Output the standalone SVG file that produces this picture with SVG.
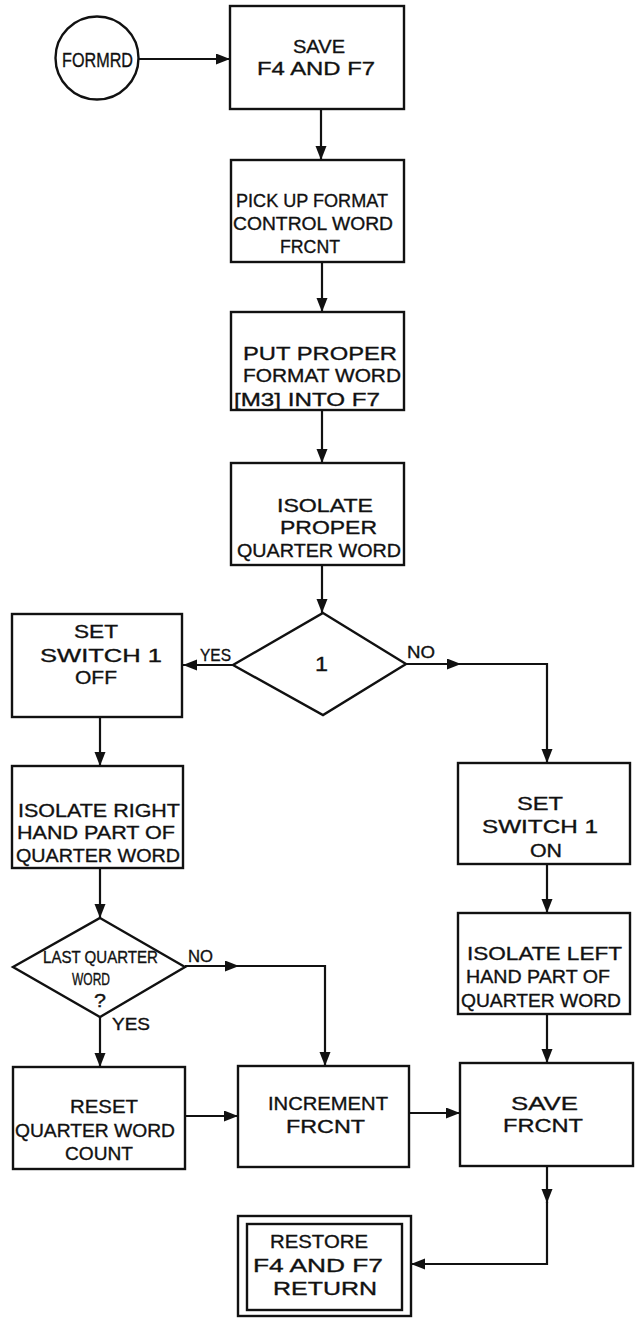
<svg xmlns="http://www.w3.org/2000/svg" width="637" height="1318" viewBox="0 0 637 1318">
<style>
.box{fill:#fff;stroke:#111;stroke-width:2.4}
.ln{fill:none;stroke:#111;stroke-width:2.2}
text{font-family:"Liberation Sans",Arial,sans-serif;font-size:19px;fill:#111;stroke:#111;stroke-width:0.35}
.lbl{font-size:17px}
.sm{font-size:17px}
</style>
<defs>
<marker id="ah" markerUnits="userSpaceOnUse" markerWidth="15" markerHeight="12" refX="14" refY="5.5" orient="auto">
<path d="M0,0 L14,5.5 L0,11 z" fill="#111"/>
</marker>
</defs>
<rect width="637" height="1318" fill="#fff"/>

<g id="connectors">
<line class="ln" x1="139" y1="59" x2="230" y2="59" marker-end="url(#ah)"/>
<line class="ln" x1="321" y1="110" x2="321" y2="160" marker-end="url(#ah)"/>
<line class="ln" x1="322" y1="262" x2="322" y2="312" marker-end="url(#ah)"/>
<line class="ln" x1="322" y1="410" x2="322" y2="463" marker-end="url(#ah)"/>
<line class="ln" x1="322" y1="565" x2="322" y2="613" marker-end="url(#ah)"/>
<line class="ln" x1="233" y1="665" x2="183" y2="665" marker-end="url(#ah)"/>
<line class="ln" x1="406" y1="664" x2="461" y2="664" marker-end="url(#ah)"/>
<polyline class="ln" points="460,664 547,664 547,763" marker-end="url(#ah)"/>
<line class="ln" x1="100" y1="717" x2="100" y2="766" marker-end="url(#ah)"/>
<line class="ln" x1="100" y1="868" x2="100" y2="918" marker-end="url(#ah)"/>
<line class="ln" x1="100" y1="1017" x2="100" y2="1067" marker-end="url(#ah)"/>
<line class="ln" x1="185" y1="966" x2="239" y2="966" marker-end="url(#ah)"/>
<polyline class="ln" points="238,966 325,966 325,1066" marker-end="url(#ah)"/>
<line class="ln" x1="185" y1="1116" x2="238" y2="1116" marker-end="url(#ah)"/>
<line class="ln" x1="409" y1="1113" x2="460" y2="1113" marker-end="url(#ah)"/>
<line class="ln" x1="547" y1="864" x2="547" y2="913" marker-end="url(#ah)"/>
<line class="ln" x1="547" y1="1014" x2="547" y2="1063" marker-end="url(#ah)"/>
<line class="ln" x1="547" y1="1166" x2="547" y2="1203" marker-end="url(#ah)"/>
<polyline class="ln" points="547,1202 547,1264 411,1264" marker-end="url(#ah)"/>
<text class="lbl" x="200" y="661" textLength="31" lengthAdjust="spacingAndGlyphs">YES</text>
<text class="lbl" x="407" y="658" textLength="28" lengthAdjust="spacingAndGlyphs">NO</text>
<text class="lbl" x="188" y="962" textLength="25" lengthAdjust="spacingAndGlyphs">NO</text>
<text class="lbl" x="112" y="1030" textLength="38" lengthAdjust="spacingAndGlyphs">YES</text>
</g>

<g id="formrd">
<circle cx="97" cy="58" r="41.5" fill="#fff" stroke="#111" stroke-width="2.4"/>
<text x="62" y="67" style="font-size:21px" textLength="71" lengthAdjust="spacingAndGlyphs">FORMRD</text>
</g>

<g id="save-f4-f7">
<rect class="box" x="230" y="6" width="174" height="103"/>
<text x="293" y="53" textLength="52" lengthAdjust="spacingAndGlyphs">SAVE</text>
<text x="257" y="75" textLength="118" lengthAdjust="spacingAndGlyphs">F4 AND F7</text>
</g>

<g id="pick-up">
<rect class="box" x="231" y="160" width="173" height="102"/>
<text x="236" y="207" textLength="152" lengthAdjust="spacingAndGlyphs">PICK UP FORMAT</text>
<text x="233" y="230" textLength="160" lengthAdjust="spacingAndGlyphs">CONTROL WORD</text>
<text x="280" y="253" textLength="60" lengthAdjust="spacingAndGlyphs">FRCNT</text>
</g>

<g id="put-proper">
<rect class="box" x="231" y="312" width="173" height="98"/>
<text x="243" y="360" textLength="154" lengthAdjust="spacingAndGlyphs">PUT PROPER</text>
<text x="243" y="382" textLength="158" lengthAdjust="spacingAndGlyphs">FORMAT WORD</text>
<text x="234" y="406" textLength="146" lengthAdjust="spacingAndGlyphs">[M3] INTO F7</text>
</g>

<g id="isolate-proper">
<rect class="box" x="231" y="463" width="173" height="102"/>
<text x="277" y="512" textLength="96" lengthAdjust="spacingAndGlyphs">ISOLATE</text>
<text x="280" y="534" textLength="97" lengthAdjust="spacingAndGlyphs">PROPER</text>
<text x="237" y="557" textLength="164" lengthAdjust="spacingAndGlyphs">QUARTER WORD</text>
</g>

<g id="decision-1">
<polygon class="box" points="323,613 406,664 323,715 233,665"/>
<text x="315" y="671" style="font-size:21px" textLength="13" lengthAdjust="spacingAndGlyphs">1</text>
</g>

<g id="set-switch-off">
<rect class="box" x="12" y="614" width="170" height="103"/>
<text x="74" y="638" textLength="44" lengthAdjust="spacingAndGlyphs">SET</text>
<text x="40" y="662" textLength="122" lengthAdjust="spacingAndGlyphs">SWITCH 1</text>
<text x="75" y="684" textLength="42" lengthAdjust="spacingAndGlyphs">OFF</text>
</g>

<g id="isolate-right">
<rect class="box" x="12" y="766" width="171" height="102"/>
<text x="18" y="817" textLength="162" lengthAdjust="spacingAndGlyphs">ISOLATE RIGHT</text>
<text x="17" y="839" textLength="158" lengthAdjust="spacingAndGlyphs">HAND PART OF</text>
<text x="16" y="862" textLength="164" lengthAdjust="spacingAndGlyphs">QUARTER WORD</text>
</g>

<g id="decision-last-quarter">
<polygon class="box" points="100,918 185,967 100,1017 13,967"/>
<text class="sm" x="43" y="963" textLength="115" lengthAdjust="spacingAndGlyphs">LAST QUARTER</text>
<text class="sm" x="72" y="985" textLength="38" lengthAdjust="spacingAndGlyphs">WORD</text>
<text x="94" y="1007" textLength="12" lengthAdjust="spacingAndGlyphs">?</text>
</g>

<g id="set-switch-on">
<rect class="box" x="458" y="763" width="172" height="101"/>
<text x="517" y="810" textLength="46" lengthAdjust="spacingAndGlyphs">SET</text>
<text x="482" y="833" textLength="116" lengthAdjust="spacingAndGlyphs">SWITCH 1</text>
<text x="530" y="857" textLength="32" lengthAdjust="spacingAndGlyphs">ON</text>
</g>

<g id="isolate-left">
<rect class="box" x="458" y="913" width="172" height="101"/>
<text x="467" y="960" textLength="155" lengthAdjust="spacingAndGlyphs">ISOLATE LEFT</text>
<text x="466" y="983" textLength="144" lengthAdjust="spacingAndGlyphs">HAND PART OF</text>
<text x="461" y="1007" textLength="160" lengthAdjust="spacingAndGlyphs">QUARTER WORD</text>
</g>

<g id="reset">
<rect class="box" x="13" y="1067" width="172" height="102"/>
<text x="70" y="1113" textLength="68" lengthAdjust="spacingAndGlyphs">RESET</text>
<text x="15" y="1137" textLength="160" lengthAdjust="spacingAndGlyphs">QUARTER WORD</text>
<text x="65" y="1160" textLength="68" lengthAdjust="spacingAndGlyphs">COUNT</text>
</g>

<g id="increment">
<rect class="box" x="238" y="1066" width="171" height="101"/>
<text x="268" y="1110" textLength="120" lengthAdjust="spacingAndGlyphs">INCREMENT</text>
<text x="286" y="1133" textLength="79" lengthAdjust="spacingAndGlyphs">FRCNT</text>
</g>

<g id="save-frcnt">
<rect class="box" x="460" y="1063" width="173" height="103"/>
<text x="511" y="1110" textLength="67" lengthAdjust="spacingAndGlyphs">SAVE</text>
<text x="503" y="1132" textLength="80" lengthAdjust="spacingAndGlyphs">FRCNT</text>
</g>

<g id="restore">
<rect class="box" x="238" y="1216" width="173" height="100"/>
<rect class="box" x="247" y="1224" width="155" height="86"/>
<text x="270" y="1248" textLength="98" lengthAdjust="spacingAndGlyphs">RESTORE</text>
<text x="253" y="1272" textLength="130" lengthAdjust="spacingAndGlyphs">F4 AND F7</text>
<text x="273" y="1295" textLength="104" lengthAdjust="spacingAndGlyphs">RETURN</text>
</g>
</svg>
